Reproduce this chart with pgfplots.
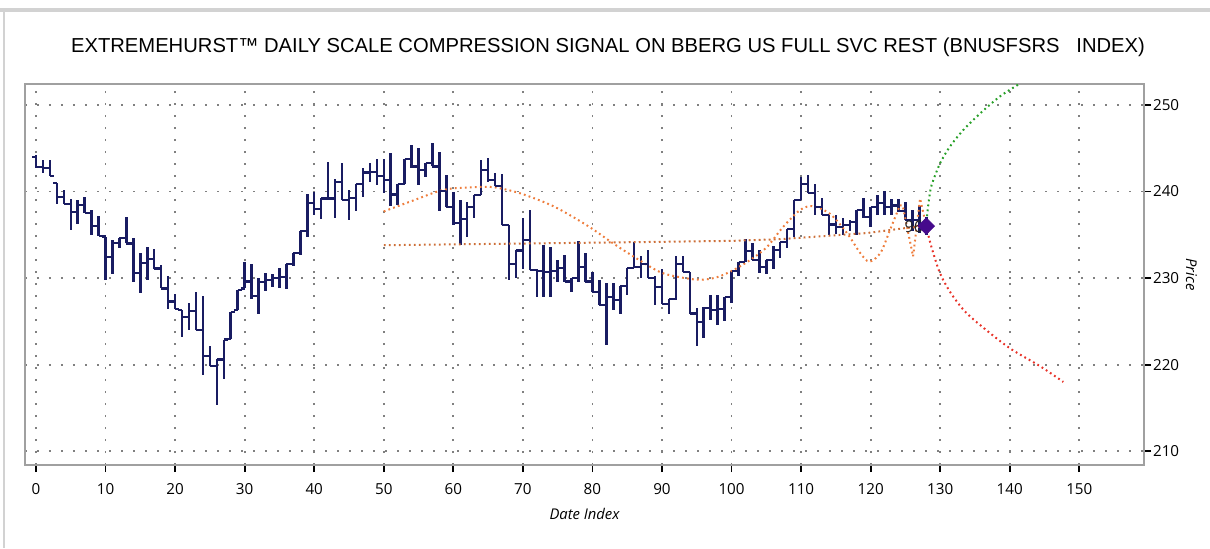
\documentclass[border=0pt]{standalone}
\usepackage{fontspec}
\setmainfont{Open Sans}
\newfontfamily\titlefont{Liberation Sans}
\usepackage{pgfplots}
\pgfplotsset{compat=1.18}
\usepackage{pgfplotstable}

\definecolor{barblue}{RGB}{25,28,98}
\definecolor{curveor}{RGB}{238,125,60}
\definecolor{lineor}{RGB}{205,110,55}
\definecolor{gred}{RGB}{232,50,40}
\definecolor{ggreen}{RGB}{40,160,40}
\definecolor{dmd}{RGB}{70,10,140}
\definecolor{framegray}{RGB}{160,160,160}

\pgfdeclareplotmark{otick}{\pgfpathmoveto{\pgfqpoint{-\pgfplotmarksize}{0pt}}\pgfpathlineto{\pgfqpoint{0pt}{0pt}}\pgfusepathqstroke}
\pgfdeclareplotmark{ctick}{\pgfpathmoveto{\pgfqpoint{0pt}{0pt}}\pgfpathlineto{\pgfqpoint{\pgfplotmarksize}{0pt}}\pgfusepathqstroke}

\pgfplotstableread{
x o h l c
0 244.0 244.2 242.7 242.85
1 242.85 243.6 242.1 242.7
2 242.7 243.6 241.8 241.8
3 241.0 241.0 238.6 239.4
4 239.4 240.2 238.6 238.6
5 238.6 239.1 235.6 237.65
6 237.65 239.0 236.3 238.45
7 238.45 239.4 237.5 237.5
8 237.5 237.9 235.0 236.05
9 236.05 237.2 234.9 234.9
10 234.8 234.8 229.8 232.45
11 232.45 234.4 230.5 234.05
12 234.05 234.6 233.5 234.6
13 234.6 237.1 234.0 234.0
14 234.0 234.6 229.5 230.6
15 230.6 232.9 228.3 231.7
16 231.7 233.6 229.8 232.25
17 232.25 233.4 231.1 231.1
18 231.1 231.5 228.8 228.8
19 228.8 230.3 226.4 227.3
20 227.3 228.2 226.4 226.4
21 226.3 226.3 223.2 225.55
22 225.55 227.1 224.0 226.2
23 226.2 228.4 224.0 224.0
24 224.0 227.9 218.8 221.0
25 221.0 222.2 219.8 219.8
26 219.8 220.7 215.3 220.6
27 220.6 222.9 218.3 222.9
28 223.0 226.1 223.0 226.1
29 226.3 228.6 226.3 228.6
30 228.8 231.9 228.8 229.6
31 229.6 231.6 227.6 227.95
32 227.95 230.0 225.9 229.55
33 229.55 230.6 228.5 229.75
34 229.75 230.5 229.0 230.0
35 230.0 231.2 228.8 230.15
36 230.15 231.6 228.7 231.6
37 231.6 232.9 231.4 232.9
38 232.9 235.4 232.7 235.4
39 235.4 239.7 234.7 238.65
40 238.65 240.0 237.3 238.0
41 238.0 239.2 236.8 239.2
42 239.2 243.4 239.0 239.2
43 239.2 241.5 236.9 241.15
44 241.15 243.3 239.0 239.0
45 239.0 240.2 236.7 239.3
46 239.3 240.9 237.7 240.9
47 240.9 242.7 239.4 242.2
48 242.2 243.3 241.1 242.3
49 242.3 243.8 240.8 241.8
50 241.8 243.8 239.8 241.35
51 241.35 244.4 238.3 239.65
52 239.65 240.9 238.4 240.9
53 240.9 243.8 240.9 243.8
54 243.8 245.4 242.7 242.9
55 242.9 245.0 240.8 242.5
56 242.5 243.3 241.7 243.3
57 243.3 245.6 242.9 242.9
58 242.9 244.6 237.7 240.05
59 240.05 241.9 238.2 238.2
60 238.2 240.0 236.1 236.4
61 236.4 239.0 233.8 236.8
62 236.8 238.8 234.8 238.25
63 238.25 239.6 236.9 239.6
64 239.6 243.7 239.6 242.5
65 242.5 243.9 241.1 241.35
66 241.35 242.1 240.6 240.6
67 240.6 242.0 236.1 236.1
68 236.1 236.1 229.8 231.6
69 231.6 233.2 230.0 233.2
70 233.2 236.9 231.1 234.4
71 234.4 237.9 230.9 230.9
72 230.9 231.1 227.8 230.8
73 230.8 233.8 227.8 230.7
74 230.7 233.6 227.8 230.85
75 230.85 232.1 229.6 231.15
76 231.15 232.7 229.6 229.6
77 229.6 230.0 228.4 230.0
78 230.0 234.3 229.6 231.25
79 231.25 232.9 229.6 229.6
80 229.6 230.7 228.4 228.4
81 228.4 229.8 226.9 226.9
82 226.9 229.4 222.3 227.85
83 227.85 229.4 226.3 227.5
84 227.5 229.1 225.9 229.1
85 229.1 231.2 228.0 231.2
86 231.2 234.2 231.2 231.25
87 231.25 232.5 230.0 231.6
88 231.6 233.2 230.0 230.0
89 230.0 230.3 226.9 229.0
90 229.0 231.0 227.0 227.0
91 227.0 227.6 225.9 227.6
92 227.6 232.5 227.5 231.6
93 231.6 232.5 230.7 230.7
94 230.7 230.7 225.9 225.9
95 225.9 226.5 222.1 224.9
96 224.9 226.7 223.1 226.55
97 226.55 228.0 225.1 226.3
98 226.3 228.0 224.6 226.4
99 226.4 227.8 225.0 227.8
100 227.8 230.8 227.1 230.8
101 230.8 231.9 230.2 231.9
102 231.9 234.5 231.9 233.1
103 233.1 234.1 232.1 232.1
104 232.1 233.3 230.6 231.3
105 231.3 232.1 230.5 232.1
106 232.1 233.7 231.0 233.25
107 233.25 234.2 232.3 234.2
108 234.2 235.7 233.5 235.7
109 235.7 239.0 234.8 239.0
110 239.0 241.7 239.0 240.85
111 240.85 241.9 239.8 239.8
112 239.8 240.9 237.3 238.25
113 238.25 239.2 237.3 237.3
114 237.3 237.3 235.0 236.2
115 236.2 237.3 235.1 235.95
116 235.95 236.9 235.0 236.1
117 236.1 236.7 235.5 236.45
118 236.45 237.9 235.0 237.9
119 237.9 239.2 236.9 237.05
120 237.05 238.2 235.9 238.2
121 238.2 239.6 237.3 238.7
122 238.7 240.1 237.3 238.2
123 238.2 239.1 237.3 238.4
124 238.4 239.1 237.7 237.75
125 237.75 238.8 236.7 236.7
126 236.7 237.9 235.4 236.75
127 236.75 238.3 235.2 236.05
128 236.05 237.1 235.0 236.0
}\ohlc

\begin{document}
\begin{tikzpicture}
\useasboundingbox (-12.5pt,-41.5pt) rectangle (592.5pt,232.5pt);
\begin{axis}[
  at={(0,0)}, anchor=south west,
  scale only axis, width=559.5pt, height=190.5pt,
  xmin=-1.58, xmax=159.3, ymin=208.4, ymax=252.43,
  xtick={0,10,...,150}, ytick={210,220,...,250},
  axis line style={framegray, line width=1pt},
  tick align=outside, xtick pos=bottom, ytick pos=right, yticklabel pos=right,
  major tick length=3.5pt,
  tick style={black, line width=0.9pt},
  grid=major,
  major grid style={gray, line width=0.9pt, dash pattern=on 0.9pt off 5.1pt},
  ticklabel style={font=\fontsize{7.6}{8}\selectfont},
  xticklabel style={yshift=-2pt},
  yticklabel style={xshift=-2.5pt},
  /pgf/number format/assume math mode=true,
  xlabel={Date Index}, ylabel={Price},
  label style={font=\fontsize{7.4}{8}\selectfont\itshape},
  xlabel style={yshift=0pt},
  ylabel style={rotate=180},
  ylabel shift=-3.5pt,
  clip=true,
]
\addplot [barblue, only marks, mark=ctick, mark size=1.9pt,
  mark options={line width=1.1pt, barblue},
  error bars/.cd, y dir=both, y explicit, error mark=none,
  error bar style={line width=1.25pt, barblue}]
  table [x=x, y=c, y error plus expr=\thisrow{h}-\thisrow{c}, y error minus expr=\thisrow{c}-\thisrow{l}] {\ohlc};
\addplot [barblue, only marks, mark=otick, mark size=1.9pt,
  mark options={line width=1.1pt, barblue}]
  table [x=x, y=o] {\ohlc};

\addplot [lineor, line width=1pt, dash pattern=on 0.9pt off 1.6pt]
  coordinates {(50,233.8) (81,234.1) (100,234.3) (107,234.5) (119.4,235.2) (125.2,235.8) (128,236.0)};

\addplot [curveor, smooth, line width=1pt, dash pattern=on 0.9pt off 1.6pt]
  coordinates {(50,237.7) (54,238.9) (58.6,240.2) (62.9,240.5) (65.8,240.5) (69.6,239.8) (74.4,238.3) (79.2,236.1) (83,234.0) (85.9,232.5) (89.7,230.7) (92.6,230.1) (95.5,229.8) (97.9,230.1) (100.2,230.9) (102.7,232.1) (105.1,233.6) (107.4,235.9) (109.9,237.9) (111.8,238.3) (114.2,237.4) (116.6,235.2) (118.5,232.9) (119.8,231.9) (121.4,232.9) (122.8,235.6) (124.2,238.4)};
\addplot [curveor, line width=1pt, dash pattern=on 0.9pt off 1.6pt]
  coordinates {(124.2,238.4) (124.6,238.4) (126.1,232.5) (127.1,239.2) (128,236.0)};

\addplot [gred, smooth, line width=1pt, dash pattern=on 0.9pt off 1.6pt]
  coordinates {(128,236.0) (128.5,234.3) (129,232.9) (130,230.5) (131.5,228.3) (133.5,226.2) (136,224.4) (140,221.9) (144.4,219.8) (147.7,218.0)};
\addplot [ggreen, smooth, line width=1pt, dash pattern=on 0.9pt off 1.6pt]
  coordinates {(128,236.0) (128.2,237.9) (128.6,240.2) (129,241.3) (130,243.3) (131.4,245.2) (133.3,247.1) (135.7,249.0) (138.6,251.0) (141.5,252.5) (143,253.2)};

\addplot [only marks, mark=none, nodes near coords={96},
  nodes near coords style={anchor=center, font=\fontsize{8}{9}\selectfont, text=black!85}]
  coordinates {(126.2,235.9)};
\addplot [only marks, mark=square*, mark size=2.9pt, mark options={fill=dmd, draw=dmd, rotate=45}]
  coordinates {(128,236.0)};
\end{axis}
\fill[gray!35] (-12.5pt,226.5pt) rectangle (592.5pt,228.5pt);
\fill[gray!35] (-11pt,-41.5pt) rectangle (-10pt,226.5pt);
\node[anchor=base, font=\titlefont\fontsize{10.1}{12}\selectfont] at (291.5pt,206.5pt)
  {EXTREMEHURST™ DAILY SCALE COMPRESSION SIGNAL ON BBERG US FULL SVC REST (BNUSFSRS\ \ \ INDEX)};
\end{tikzpicture}
\end{document}
